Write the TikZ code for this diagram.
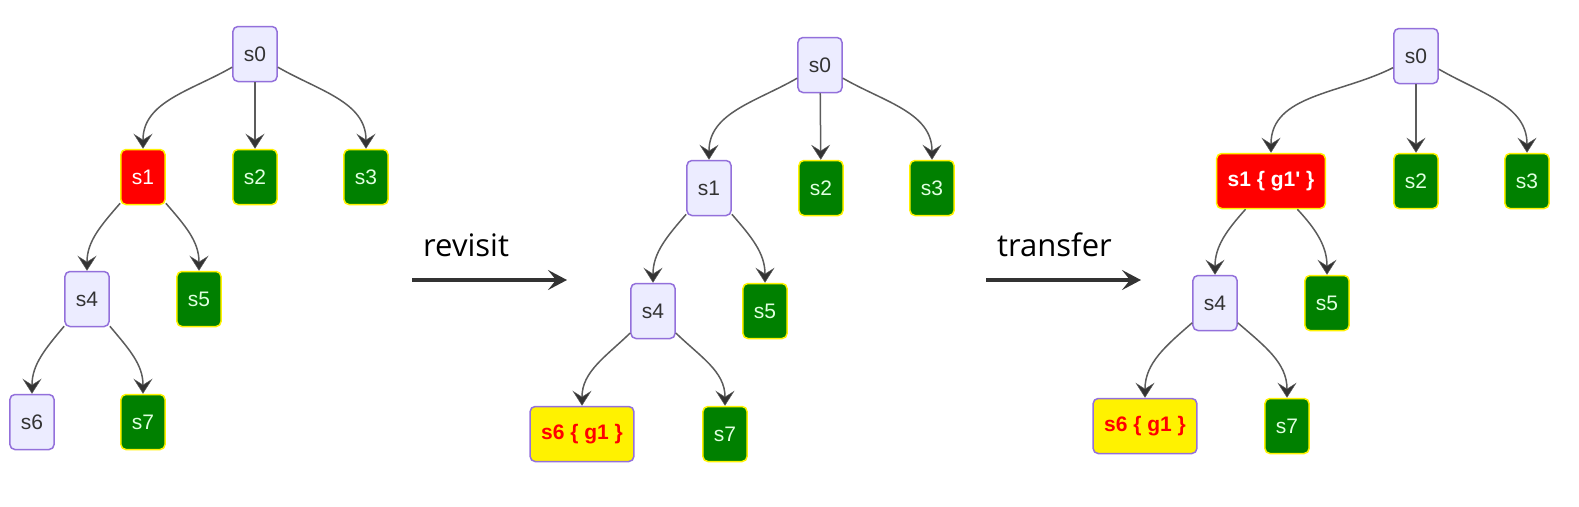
\documentclass[tikz,border=0pt]{standalone}
\usepackage{fontspec}
\setmainfont{Liberation Sans}
\newfontfamily\labelfont{Open Sans}
\usepackage{xcolor}
\usetikzlibrary{arrows.meta}

\definecolor{lav}{HTML}{ECECFF}
\definecolor{lavline}{HTML}{9370DB}
\definecolor{okgreen}{HTML}{008000}
\definecolor{ink}{HTML}{333333}

\tikzset{
  st/.style={rectangle, rounded corners=5pt, line width=1.5pt,
    minimum height=55pt, minimum width=43pt, inner xsep=11pt, inner ysep=0pt,
    font=\fontsize{21}{21}\selectfont},
  stnew/.style={st, fill=lav, draw=lavline, text=ink},
  stok/.style={st, fill=okgreen, draw=yellow, text=white!88!green},
  stbad/.style={st, fill=red, draw=yellow, text=white},
  stgoal/.style={st, fill=yellow, draw=lavline, text=red, font=\fontsize{21}{21}\selectfont\bfseries},
  link/.style={draw=ink!80, line width=1.5pt, arrows={-Stealth[length=15pt,width=19pt,inset=6pt,fill=ink,line width=0.5pt]}},
  jump/.style={draw=ink, line width=3.5pt, arrows={-Stealth[length=19pt,width=20pt,inset=8pt]}},
  lbl/.style={font=\labelfont\fontsize{31}{31}\selectfont, inner sep=0pt}
}

\begin{document}
\begin{tikzpicture}[x=1pt,y=1pt]
\useasboundingbox (0,0) rectangle (1579,-506);

% left tree
\node[stnew] (l0) at (255,-54) {s0};
\node[stbad] (l1) at (143,-177) {s1};
\node[stok] (l2) at (255,-177) {s2};
\node[stok] (l3) at (366,-177) {s3};
\node[stnew] (l4) at (87,-299) {s4};
\node[stok] (l5) at (199,-299) {s5};
\node[stnew] (l6) at (32,-422) {s6};
\node[stok] (l7) at (143,-422) {s7};
\draw[link] (l0) to[out=-150,in=90] (l1);
\draw[link] (l0) -- (l2);
\draw[link] (l0) to[out=-30,in=90] (l3);
\draw[link] (l1) to[out=-131,in=90] (l4);
\draw[link] (l1) to[out=-49,in=90] (l5);
\draw[link] (l4) to[out=-130,in=90] (l6);
\draw[link] (l4) to[out=-50,in=90] (l7);

% revisit
\coordinate (rv1) at (412,-280);
\coordinate (rv2) at (567,-280);
\draw[jump] (rv1) -- (rv2);
\node[lbl, anchor=base west] (rvtxt) at (423,-256) {revisit};

% middle tree
\node[stnew] (m0) at (820,-65) {s0};
\node[stnew] (m1) at (709,-188) {s1};
\node[stok] (m2) at (821,-188) {s2};
\node[stok] (m3) at (932,-188) {s3};
\node[stnew] (m4) at (653,-311) {s4};
\node[stok] (m5) at (765,-311) {s5};
\node[stgoal] (m6) at (582,-434) {s6 \{ g1 \}};
\node[stok] (m7) at (725,-434) {s7};
\draw[link] (m0) to[out=-150,in=90] (m1);
\draw[link] (m0) -- (m2);
\draw[link] (m0) to[out=-30,in=90] (m3);
\draw[link] (m1) to[out=-131,in=90] (m4);
\draw[link] (m1) to[out=-49,in=90] (m5);
\draw[link] (m4) to[out=-136,in=90] (m6);
\draw[link] (m4) to[out=-44,in=90] (m7);

% transfer
\coordinate (tr1) at (986,-280);
\coordinate (tr2) at (1141,-280);
\draw[jump] (tr1) -- (tr2);
\node[lbl, anchor=base west] (trtxt) at (997,-256) {transfer};

% right tree
\node[stnew] (r0) at (1416,-56) {s0};
\node[stbad, font=\fontsize{21}{21}\selectfont\bfseries] (r1) at (1271,-181) {s1 \{ g1\textquotesingle{} \}};
\node[stok] (r2) at (1416,-181) {s2};
\node[stok] (r3) at (1527,-181) {s3};
\node[stnew] (r4) at (1215,-303) {s4};
\node[stok] (r5) at (1327,-303) {s5};
\node[stgoal] (r6) at (1145,-426) {s6 \{ g1 \}};
\node[stok] (r7) at (1287,-426) {s7};
\draw[link] (r0) to[out=-153,in=90] (r1);
\draw[link] (r0) -- (r2);
\draw[link] (r0) to[out=-30,in=90] (r3);
\draw[link] (r1) to[out=-132,in=90] (r4);
\draw[link] (r1) to[out=-47,in=90] (r5);
\draw[link] (r4) to[out=-139,in=90] (r6);
\draw[link] (r4) to[out=-41,in=90] (r7);
\end{tikzpicture}
\end{document}
